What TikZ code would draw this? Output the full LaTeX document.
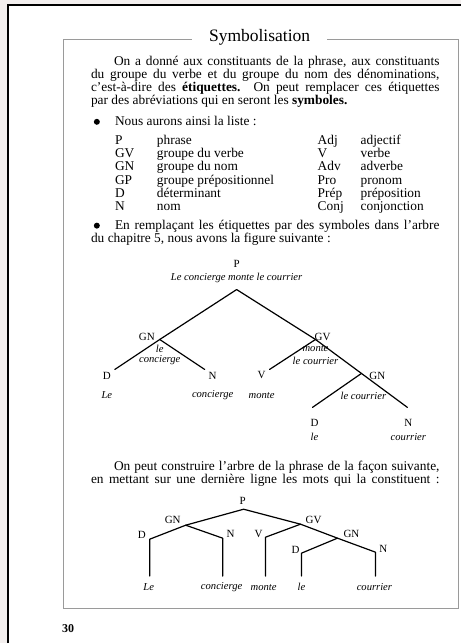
\documentclass[tikz,border=0pt]{standalone}
\usepackage{fontspec}
\setmainfont{Liberation Serif}
\definecolor{pagebg}{HTML}{F3EFEE}
\definecolor{boxgray}{HTML}{9A9A9A}
\begin{document}
\begin{tikzpicture}[x=1pt,y=-1pt,
  body/.style={anchor=base west, inner sep=0pt, font=\fontsize{13.4}{13}\selectfont},
  lab/.style={inner sep=0pt, font=\fontsize{11}{11}\selectfont},
  itl/.style={inner sep=0pt, font=\fontsize{10.6}{11}\selectfont\itshape},
  branch/.style={line width=1.2pt, line cap=round, line join=round},
  bul/.style={circle, fill=black, inner sep=0pt, minimum size=6pt},
]
% page
\fill[pagebg] (0,0) rectangle (462,644);
\fill[white] (8,5) rectangle (462,644);
\draw[line width=2pt] (8,644) -- (8,5) -- (462,5);
\useasboundingbox (0,0) rectangle (462,644);
% frame with title
\node[inner sep=0pt, anchor=base, font=\fontsize{17.5}{18}\selectfont] (title) at (260,42) {Symbolisation};
\coordinate (tl) at (63,39);
\coordinate (tr) at (459,39);
\coordinate (bl) at (63,609);
\coordinate (br) at (459,609);
\coordinate (gl) at (192,39);
\coordinate (gr) at (328,39);
\draw[boxgray, line width=0.8pt] (gl) -- (tl) -- (bl) -- (br) -- (tr) -- (gr);

% paragraph 1
\node[body] (p1) at (114,66) {\makebox[326pt][s]{On a donné aux constituants de la phrase, aux constituants}};
\node[body] (p2) at (91,79) {\makebox[349pt][s]{du groupe du verbe et du groupe du nom des dénominations,}};
\node[body] (p3) at (91,92) {\makebox[349pt][s]{c’est-à-dire des \textbf{étiquettes.} On peut remplacer ces étiquettes}};
\node[body] (p4) at (91,105) {par des abréviations qui en seront les \textbf{symboles.}};

% bullet list
\node[bul] (b1) at (97,122) {};
\node[body] (l0) at (115,126) {Nous aurons ainsi la liste :};
\foreach \y/\a/\b/\c/\d [count=\i] in {145/P/phrase/Adj/adjectif,158/GV/groupe du verbe/V/verbe,171/GN/groupe du nom/Adv/adverbe,185/GP/groupe prépositionnel/Pro/pronom,198/D/déterminant/Prép/préposition,211/N/nom/Conj/conjonction}{
  \node[body] (ta\i) at (115,\y) {\a};
  \node[body] (tb\i) at (157,\y) {\b};
  \node[body] (tc\i) at (318,\y) {\c};
  \node[body] (td\i) at (361,\y) {\d};
}
\node[bul] (b2) at (97,226) {};
\node[body] (e1) at (115,230) {\makebox[325pt][s]{En remplaçant les étiquettes par des symboles dans l’arbre}};
\node[body] (e2) at (91,243) {du chapitre 5, nous avons la figure suivante :};

% tree 1
\node[lab] (P1) at (237,264) {P};
\node[itl] (s1) at (237,278) {Le concierge monte le courrier};
\coordinate (a1) at (237,290);
\coordinate (gn1) at (160,340);
\coordinate (gv1) at (316,340);
\coordinate (d1) at (115,370);
\coordinate (n1) at (205,370);
\coordinate (v1) at (270,370);
\coordinate (gn2) at (362,374);
\coordinate (d2) at (313,408);
\coordinate (n2) at (408,408);
\draw[branch] (gn1) -- (a1) -- (gv1);
\draw[branch] (d1) -- (gn1) -- (n1);
\draw[branch] (v1) -- (gv1) -- (gn2) -- (n2);
\draw[branch] (d2) -- (gn2);
\node[lab] (GNl1) at (147,337) {GN};
\node[lab] (GVl1) at (323,337) {GV};
\node[itl] (w1) at (160,349) {le};
\node[itl] (w2) at (160,361) {concierge};
\node[itl] (w3) at (316,349) {monte};
\node[itl] (w4) at (316,361) {le courrier};
\node[lab] (Dl1) at (107,376) {D};
\node[lab] (Nl1) at (213,376) {N};
\node[lab] (Vl1) at (262,376) {V};
\node[lab] (GNl2) at (378,376) {GN};
\node[itl] (w5) at (107,396) {Le};
\node[itl] (w6) at (213,396) {concierge};
\node[itl] (w7) at (262,396) {monte};
\node[itl] (w8) at (364,397) {le courrier};
\node[lab] (Dl2) at (315,424) {D};
\node[lab] (Nl2) at (409,424) {N};
\node[itl] (w9) at (315,438) {le};
\node[itl] (w10) at (409,438) {courrier};

% paragraph 2
\node[body] (q1) at (114,471) {\makebox[326pt][s]{On peut construire l’arbre de la phrase de la façon suivante,}};
\node[body] (q2) at (91,484) {\makebox[349pt][s]{en mettant sur une dernière ligne les mots qui la constituent :}};

% tree 2
\node[lab] (P2) at (243,502) {P};
\coordinate (A2) at (244,510);
\coordinate (GN2j) at (186,526);
\coordinate (GV2j) at (301,525);
\coordinate (D2c) at (150,540);
\coordinate (N2c) at (223,539);
\coordinate (V2c) at (266,538);
\coordinate (GN3j) at (338,539);
\coordinate (D3c) at (302,554);
\coordinate (N3c) at (376,553);
\coordinate (D2e) at (150,577);
\coordinate (N2e) at (223,577);
\coordinate (V2e) at (266,577);
\coordinate (D3e) at (302,577);
\coordinate (N3e) at (376,577);
\draw[branch] (GN2j) -- (A2) -- (GV2j) -- (GN3j) -- (N3c) -- (N3e);
\draw[branch] (D2e) -- (D2c) -- (GN2j) -- (N2c) -- (N2e);
\draw[branch] (V2e) -- (V2c) -- (GV2j);
\draw[branch] (D3e) -- (D3c) -- (GN3j);
\node[lab] (GNm) at (173,521) {GN};
\node[lab] (GVm) at (314,521) {GV};
\node[lab] (Dm) at (142,536) {D};
\node[lab] (Nm) at (231,535) {N};
\node[lab] (Vm) at (259,535) {V};
\node[lab] (GNm2) at (352,535) {GN};
\node[lab] (Dm2) at (296,551) {D};
\node[lab] (Nm2) at (384,550) {N};
\node[itl] (x1) at (149,588) {Le};
\node[itl] (x2) at (222,588) {concierge};
\node[itl] (x3) at (264,588) {monte};
\node[itl] (x4) at (302,588) {le};
\node[itl] (x5) at (375,588) {courrier};

% page number
\node[body, font=\fontsize{12}{13}\selectfont\bfseries] (pg) at (62,633) {30};
\end{tikzpicture}
\end{document}
